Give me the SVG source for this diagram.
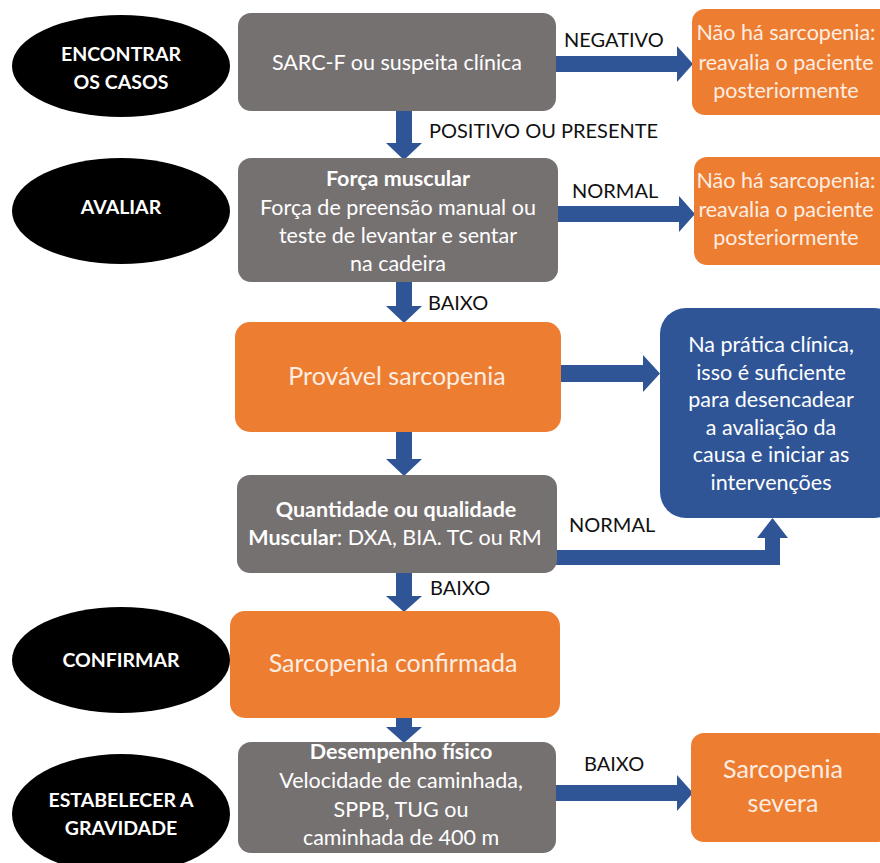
<svg xmlns="http://www.w3.org/2000/svg" width="880" height="863" viewBox="0 0 880 863">
<style>
text{font-family:Lato,"Open Sans","Liberation Sans",sans-serif;text-anchor:middle}
.ell{fill:#000}
.et{fill:#fff;font-weight:bold;font-size:19.5px}
.gray{fill:#767171}
.orange{fill:#ED7D31}
.blue{fill:#2F5597}
.wt{fill:#fff;font-size:21.5px}
.ot{fill:#FDEDE2;font-size:21.5px}
.big{font-size:25px}
.b{font-weight:bold}
.lab{fill:#111;font-size:20px;text-anchor:start}
.arr{fill:#2F5597}
</style>
<rect width="880" height="863" fill="#fff"/>
<g id="connectors">
<polygon class="arr" points="556,56 677,56 677,46 693,64 677,82 677,72 556,72"/>
<polygon class="arr" points="558,206 679,206 679,196 695,214 679,232 679,222 558,222"/>
<polygon class="arr" points="561,365 643,365 643,355 660,373.5 643,392 643,382 561,382"/>
<polygon class="arr" points="556,550 765,550 765,538 757,538 772.5,518 788,538 780,538 780,565 556,565"/>
<polygon class="arr" points="556,785 677,785 677,775 693,793 677,811 677,801 556,801"/>
<polygon class="arr" points="396,110 412,110 412,143 422,143 404,160 386,143 396,143"/>
<polygon class="arr" points="396,282 412,282 412,306 422,306 404,323 386,306 396,306"/>
<polygon class="arr" points="396,432 412,432 412,459 422,459 404,476 386,459 396,459"/>
<polygon class="arr" points="396,573 412,573 412,596 422,596 404,612 386,596 396,596"/>
<polygon class="arr" points="396,718 412,718 412,727 422,727 404,743 386,727 396,727"/>
<text class="lab" x="564" y="47">NEGATIVO</text>
<text class="lab" x="429" y="138">POSITIVO OU PRESENTE</text>
<text class="lab" x="572" y="198">NORMAL</text>
<text class="lab" x="428" y="310">BAIXO</text>
<text class="lab" x="569" y="532">NORMAL</text>
<text class="lab" x="430" y="595">BAIXO</text>
<text class="lab" x="584" y="771">BAIXO</text>
</g>
<g id="stage-encontrar">
<ellipse class="ell" cx="121" cy="66" rx="109" ry="51"/>
<text class="et" x="121" y="61">ENCONTRAR</text>
<text class="et" x="121" y="89">OS CASOS</text>
</g>
<g id="stage-avaliar">
<ellipse class="ell" cx="121" cy="211" rx="109" ry="53"/>
<text class="et" x="121" y="214">AVALIAR</text>
</g>
<g id="stage-confirmar">
<ellipse class="ell" cx="121" cy="660" rx="109" ry="53"/>
<text class="et" x="121" y="667">CONFIRMAR</text>
</g>
<g id="stage-gravidade">
<ellipse class="ell" cx="121" cy="814" rx="109" ry="60"/>
<text class="et" x="121" y="807">ESTABELECER A</text>
<text class="et" x="121" y="835">GRAVIDADE</text>
</g>
<g id="sarcf">
<rect class="gray" x="238" y="13" width="318" height="98" rx="13"/>
<text class="wt" x="397" y="70">SARC-F ou suspeita clínica</text>
</g>
<g id="nao1">
<rect class="orange" x="692" y="9" width="200" height="106" rx="13"/>
<text class="ot" x="786" y="40">Não há sarcopenia:</text>
<text class="ot" x="786" y="70">reavalia o paciente</text>
<text class="ot" x="786" y="98">posteriormente</text>
</g>
<g id="forca">
<rect class="gray" x="238" y="158" width="320" height="124" rx="13"/>
<text class="wt b" x="398" y="186">Força muscular</text>
<text class="wt" x="398" y="215">Força de preensão manual ou</text>
<text class="wt" x="398" y="243">teste de levantar e sentar</text>
<text class="wt" x="398" y="271">na cadeira</text>
</g>
<g id="nao2">
<rect class="orange" x="694" y="157" width="200" height="108" rx="13"/>
<text class="ot" x="786" y="188">Não há sarcopenia:</text>
<text class="ot" x="786" y="217">reavalia o paciente</text>
<text class="ot" x="786" y="245">posteriormente</text>
</g>
<g id="provavel">
<rect class="orange" x="235" y="322" width="326" height="110" rx="15"/>
<text class="ot big" x="397" y="385">Provável sarcopenia</text>
</g>
<g id="pratica">
<rect class="blue" x="660" y="308" width="240" height="210" rx="26"/>
<text class="wt" x="771" y="352">Na prática clínica,</text>
<text class="wt" x="771" y="380">isso é suficiente</text>
<text class="wt" x="771" y="407">para desencadear</text>
<text class="wt" x="771" y="435">a avaliação da</text>
<text class="wt" x="771" y="462">causa e iniciar as</text>
<text class="wt" x="771" y="490">intervenções</text>
</g>
<g id="quantidade">
<rect class="gray" x="237" y="475" width="320" height="98" rx="13"/>
<text class="wt b" x="396" y="517">Quantidade ou qualidade</text>
<text class="wt" x="395" y="545"><tspan class="b">Muscular</tspan>: DXA, BIA. TC ou RM</text>
</g>
<g id="confirmada">
<rect class="orange" x="230" y="611" width="330" height="107" rx="15"/>
<text class="ot big" x="393" y="672">Sarcopenia confirmada</text>
</g>
<g id="desempenho">
<rect class="gray" x="238" y="742" width="318" height="111" rx="13"/>
<text class="wt b" x="401" y="759">Desempenho físico</text>
<text class="wt" x="401" y="788">Velocidade de caminhada,</text>
<text class="wt" x="401" y="817">SPPB, TUG ou</text>
<text class="wt" x="401" y="845">caminhada de 400 m</text>
</g>
<g id="severa">
<rect class="orange" x="691" y="733" width="200" height="109" rx="13"/>
<text class="ot big" x="783" y="778">Sarcopenia</text>
<text class="ot big" x="783" y="812">severa</text>
</g>
</svg>
